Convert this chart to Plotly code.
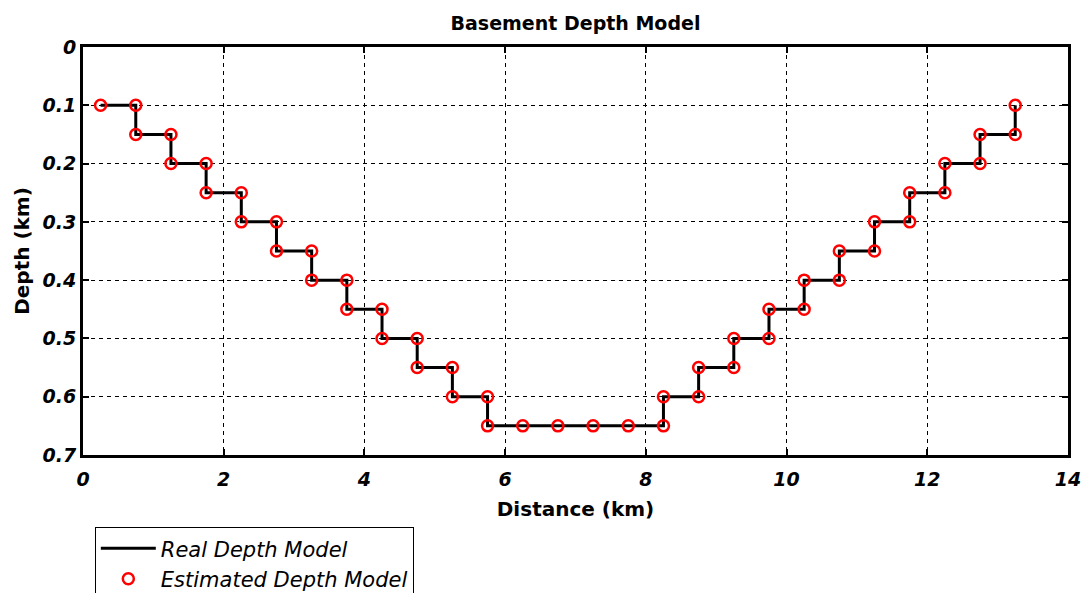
import plotly.graph_objects as go

# Real depth model (step profile) - distance (km), depth (km)
real_distance = [0.25, 0.75, 0.75, 1.25, 1.25, 1.75, 1.75, 2.25, 2.25, 2.75, 2.75, 3.25, 3.25,
                 3.75, 3.75, 4.25, 4.25, 4.75, 4.75, 5.25, 5.25, 5.75, 5.75, 6.25, 6.75, 7.25,
                 7.75, 8.25, 8.25, 8.75, 8.75, 9.25, 9.25, 9.75, 9.75, 10.25, 10.25, 10.75, 10.75,
                 11.25, 11.25, 11.75, 11.75, 12.25, 12.25, 12.75, 12.75, 13.25, 13.25]
real_depth = [0.10, 0.10, 0.15, 0.15, 0.20, 0.20, 0.25, 0.25, 0.30, 0.30, 0.35, 0.35, 0.40,
              0.40, 0.45, 0.45, 0.50, 0.50, 0.55, 0.55, 0.60, 0.60, 0.65, 0.65, 0.65, 0.65,
              0.65, 0.65, 0.60, 0.60, 0.55, 0.55, 0.50, 0.50, 0.45, 0.45, 0.40, 0.40, 0.35,
              0.35, 0.30, 0.30, 0.25, 0.25, 0.20, 0.20, 0.15, 0.15, 0.10]

# Estimated depth model points
est_distance = [0.25, 0.75, 0.75, 1.25, 1.25, 1.75, 1.75, 2.25, 2.25, 2.75, 2.75, 3.25, 3.25,
                3.75, 3.75, 4.25, 4.25, 4.75, 4.75, 5.25, 5.25, 5.75, 5.75, 6.25, 6.75, 7.25,
                7.75, 8.25, 8.25, 8.75, 8.75, 9.25, 9.25, 9.75, 9.75, 10.25, 10.25, 10.75, 10.75,
                11.25, 11.25, 11.75, 11.75, 12.25, 12.25, 12.75, 12.75, 13.25, 13.25]
est_depth = [0.10, 0.10, 0.15, 0.15, 0.20, 0.20, 0.25, 0.25, 0.30, 0.30, 0.35, 0.35, 0.40,
             0.40, 0.45, 0.45, 0.50, 0.50, 0.55, 0.55, 0.60, 0.60, 0.65, 0.65, 0.65, 0.65,
             0.65, 0.65, 0.60, 0.60, 0.55, 0.55, 0.50, 0.50, 0.45, 0.45, 0.40, 0.40, 0.35,
             0.35, 0.30, 0.30, 0.25, 0.25, 0.20, 0.20, 0.15, 0.15, 0.10]

x_ticks = [0, 2, 4, 6, 8, 10, 12, 14]
x_tick_labels = ["0", "2", "4", "6", "8", "10", "12", "14"]
y_ticks = [0, 0.1, 0.2, 0.3, 0.4, 0.5, 0.6, 0.7]
y_tick_labels = ["0", "0.1", "0.2", "0.3", "0.4", "0.5", "0.6", "0.7"]

FONT = "DejaVu Sans, Liberation Sans, sans-serif"

fig = go.Figure()
fig.add_trace(go.Scatter(
    x=real_distance, y=real_depth, mode="lines", name="Real Depth Model",
    line=dict(color="black", width=3),
))
fig.add_trace(go.Scatter(
    x=est_distance, y=est_depth, mode="markers", name="Estimated Depth Model",
    marker=dict(symbol="circle-open", size=11, color="#ff0000", line=dict(width=2.5, color="#ff0000")),
))

axis_common = dict(
    showline=True, linecolor="black", linewidth=3, mirror="ticks",
    ticks="inside", ticklen=6, tickwidth=2, tickcolor="black",
    showgrid=True, gridcolor="black", gridwidth=1, griddash="4px,4px",
    zeroline=False,
    tickfont=dict(family=FONT, size=19, color="black", weight="bold", style="italic"),
)

fig.update_layout(
    width=1090, height=593,
    paper_bgcolor="white", plot_bgcolor="white",
    margin=dict(l=83, r=22, t=47, b=138, autoexpand=False),
    title=dict(text="Basement Depth Model", xref="paper", x=0.5, xanchor="center",
               y=0.96, yanchor="middle",
               font=dict(family=FONT, size=19, color="black", weight="bold")),
    xaxis=dict(range=[0, 14], tickvals=x_ticks, ticktext=x_tick_labels,
               ticklabelstandoff=5,
               title=dict(text="Distance (km)", standoff=14,
                          font=dict(family=FONT, size=20, color="black", weight="bold")),
               **axis_common),
    yaxis=dict(range=[0.7, 0], tickvals=y_ticks, ticktext=y_tick_labels,
               title=dict(text="Depth (km)", standoff=8,
                          font=dict(family=FONT, size=20, color="black", weight="bold")),
               **axis_common),
    legend=dict(x=0.012, y=-0.177, xanchor="left", yanchor="top",
                bordercolor="black", borderwidth=1, bgcolor="white",
                font=dict(family=FONT, size=21, color="black", style="italic"),
                tracegroupgap=0, itemwidth=55),
    showlegend=True,
)

fig.write_html("out.html")
